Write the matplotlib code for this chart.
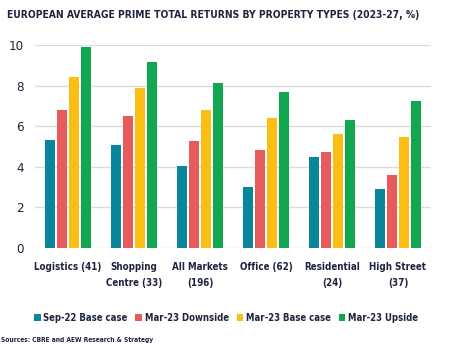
import matplotlib
matplotlib.use("Agg")
import matplotlib.pyplot as plt
import numpy as np

categories = ["Logistics (41)", "Shopping\nCentre (33)", "All Markets\n(196)", "Office (62)", "Residential\n(24)", "High Street\n(37)"]
series_names = ["Sep-22 Base case", "Mar-23 Downside", "Mar-23 Base case", "Mar-23 Upside"]
sep22_base = [5.33, 5.08, 4.02, 3.02, 4.49, 2.92]
mar23_down = [6.80, 6.51, 5.28, 4.84, 4.74, 3.61]
mar23_base = [8.43, 7.89, 6.80, 6.41, 5.62, 5.48]
mar23_up = [9.92, 9.16, 8.13, 7.69, 6.31, 7.25]
yticks = [0, 2, 4, 6, 8, 10]

colors = ["#0a869c", "#e85b5d", "#fbbe14", "#12a650"]
text_color = "#1e2340"

plt.rcParams['font.family'] = ['DejaVu Sans']
plt.rcParams['font.stretch'] = 'condensed'

fig = plt.figure(figsize=(4.52, 3.5), dpi=100)
ax = fig.add_axes([35/452, 1-248/350, 396/452, (248-45)/350])

x = np.arange(len(categories))
step = 0.182
width = 0.145
for i, (vals, c, name) in enumerate(zip([sep22_base, mar23_down, mar23_base, mar23_up], colors, series_names)):
    ax.bar(x + (i - 1.5) * step, vals, width=width, color=c, label=name, zorder=3)

ax.set_xlim(-0.5, len(categories) - 0.5)
ax.set_ylim(0, 10)
ax.set_yticks(yticks)
ax.set_yticklabels([str(t) for t in yticks], fontsize=9.5, color=text_color, stretch='condensed')
ax.set_xticks(x)
ax.set_xticklabels(categories, fontsize=9, color=text_color, fontweight='bold', stretch='condensed',
                   linespacing=1.75, va='top')
ax.tick_params(axis='y', length=0, pad=8)
ax.tick_params(axis='x', length=0, pad=10)
ax.yaxis.grid(True, color="#dcdcdc", linewidth=1, zorder=0)
for s in ax.spines.values():
    s.set_visible(False)

title = fig.text(7/452, 1-15/350, "EUROPEAN AVERAGE PRIME TOTAL RETURNS BY PROPERTY TYPES (2023-27, %)",
                 fontsize=10, fontweight='bold', color=text_color, va='center', ha='left', stretch='condensed')

def make_legend(fs):
    leg = fig.legend(loc='center', bbox_to_anchor=(0.5, 1-318/350), ncol=4, frameon=False,
                     prop={'size': fs, 'weight': 'bold', 'stretch': 'condensed'},
                     handlelength=0.7, handleheight=0.7, handletextpad=0.3,
                     columnspacing=0.8, labelcolor=text_color)
    return leg

leg = make_legend(10)

src = fig.text(1/452, 1-340/350, "Sources: CBRE and AEW Research & Strategy", fontsize=6.5,
               fontweight='bold', color=text_color, va='center', ha='left', stretch='condensed')

# fit text sizes to reference widths
fig.canvas.draw()
r = fig.canvas.get_renderer()
w = title.get_window_extent(r).width
title.set_fontsize(10 * 409 / w)
w = src.get_window_extent(r).width
src.set_fontsize(6.5 * 151 / w)
w = max(t.get_window_extent(r).width for t in ax.get_xticklabels())
fs_x = 9 * 68 / w
for t in ax.get_xticklabels():
    t.set_fontsize(fs_x)
w = leg.get_window_extent(r).width
leg.remove()
leg = make_legend(10 * 393 / w)

fig.savefig("out.png", dpi=100, facecolor="white")
